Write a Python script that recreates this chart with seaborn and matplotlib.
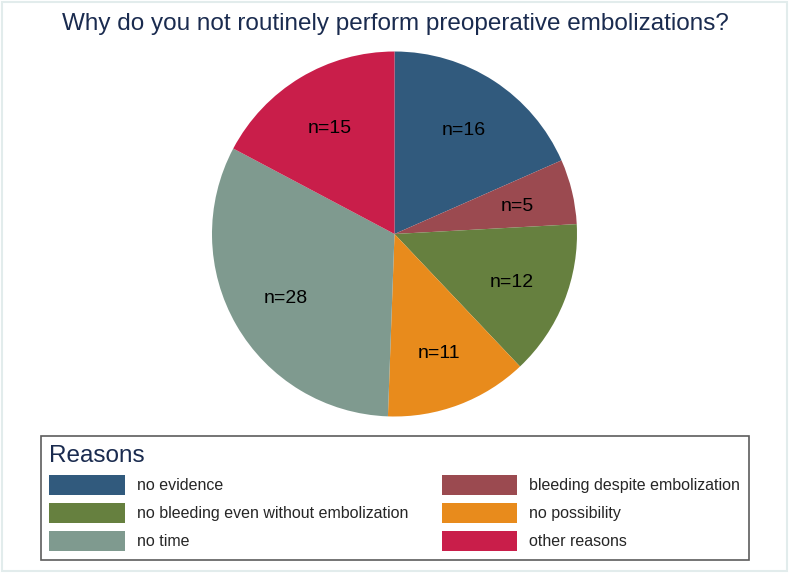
import matplotlib
matplotlib.use("Agg")
import matplotlib.pyplot as plt
import seaborn as sns
from matplotlib.patches import Patch, Rectangle

reasons = ["no evidence", "bleeding despite embolization",
           "no bleeding even without embolization", "no possibility",
           "no time", "other reasons"]
counts = [16, 5, 12, 11, 28, 15]
colors = ["#315a7d", "#9b4a50", "#66803f", "#e88b1c", "#7f9a8f", "#c91e4a"]

sns.set_style("white")
plt.rcParams['font.family'] = ['Liberation Sans', 'DejaVu Sans']

palette = sns.color_palette(colors)

fig = plt.figure(figsize=(7.9, 5.75), dpi=100)
fig.patch.set_facecolor("white")
# light outer frame of the graph region
fig.add_artist(Rectangle((2 / 790, 4 / 575), 785 / 790, 569 / 575, transform=fig.transFigure,
                         facecolor="none", edgecolor="#e2ecec", linewidth=1.5))

# pie axes: centre ~ (394.5, 234) px, radius ~182.5 px
ax = fig.add_axes([(394.5 - 182.5) / 790, (575 - 234 - 182.5) / 575, 365 / 790, 365 / 575])
wedges, texts = ax.pie(counts, colors=palette, startangle=90, counterclock=False,
                       labels=["n={}".format(c) for c in counts], labeldistance=0.69,
                       wedgeprops=dict(linewidth=0))
for t in texts:
    t.set_fontsize(14)
    t.set_color("black")
    t.set_ha("center")
    t.set_va("center_baseline")
ax.set_xlim(-1, 1)
ax.set_ylim(-1, 1)
ax.set_aspect("equal")
ax.axis("off")

fig.text(0.5, 0.958, "Why do you not routinely perform preoperative embolizations?",
         ha="center", va="center", fontsize=17.5, color="#1a2b4f")

# legend: fill rows left-to-right like the original
order = [0, 2, 4, 1, 3, 5]
handles = [Patch(facecolor=palette[i], edgecolor="none") for i in order]
labels = [reasons[i] for i in order]
leg = fig.legend(handles, labels, ncol=2, loc="upper left",
                 bbox_to_anchor=(40.7 / 790, 0.03, 708.3 / 790, 1 - 436 / 575 - 0.03),
                 mode="expand",
                 title="Reasons", title_fontsize=17.5, fontsize=11.5,
                 alignment="left", fancybox=False, frameon=True,
                 handlelength=4.7, handleheight=1.55, handletextpad=0.75,
                 labelspacing=0.5, borderpad=0.55, borderaxespad=0)
leg.get_frame().set_edgecolor("#333333")
leg.get_frame().set_linewidth(1.2)
leg.get_title().set_color("#1a2b4f")

fig.savefig("out.png", dpi=100, facecolor=fig.get_facecolor())
